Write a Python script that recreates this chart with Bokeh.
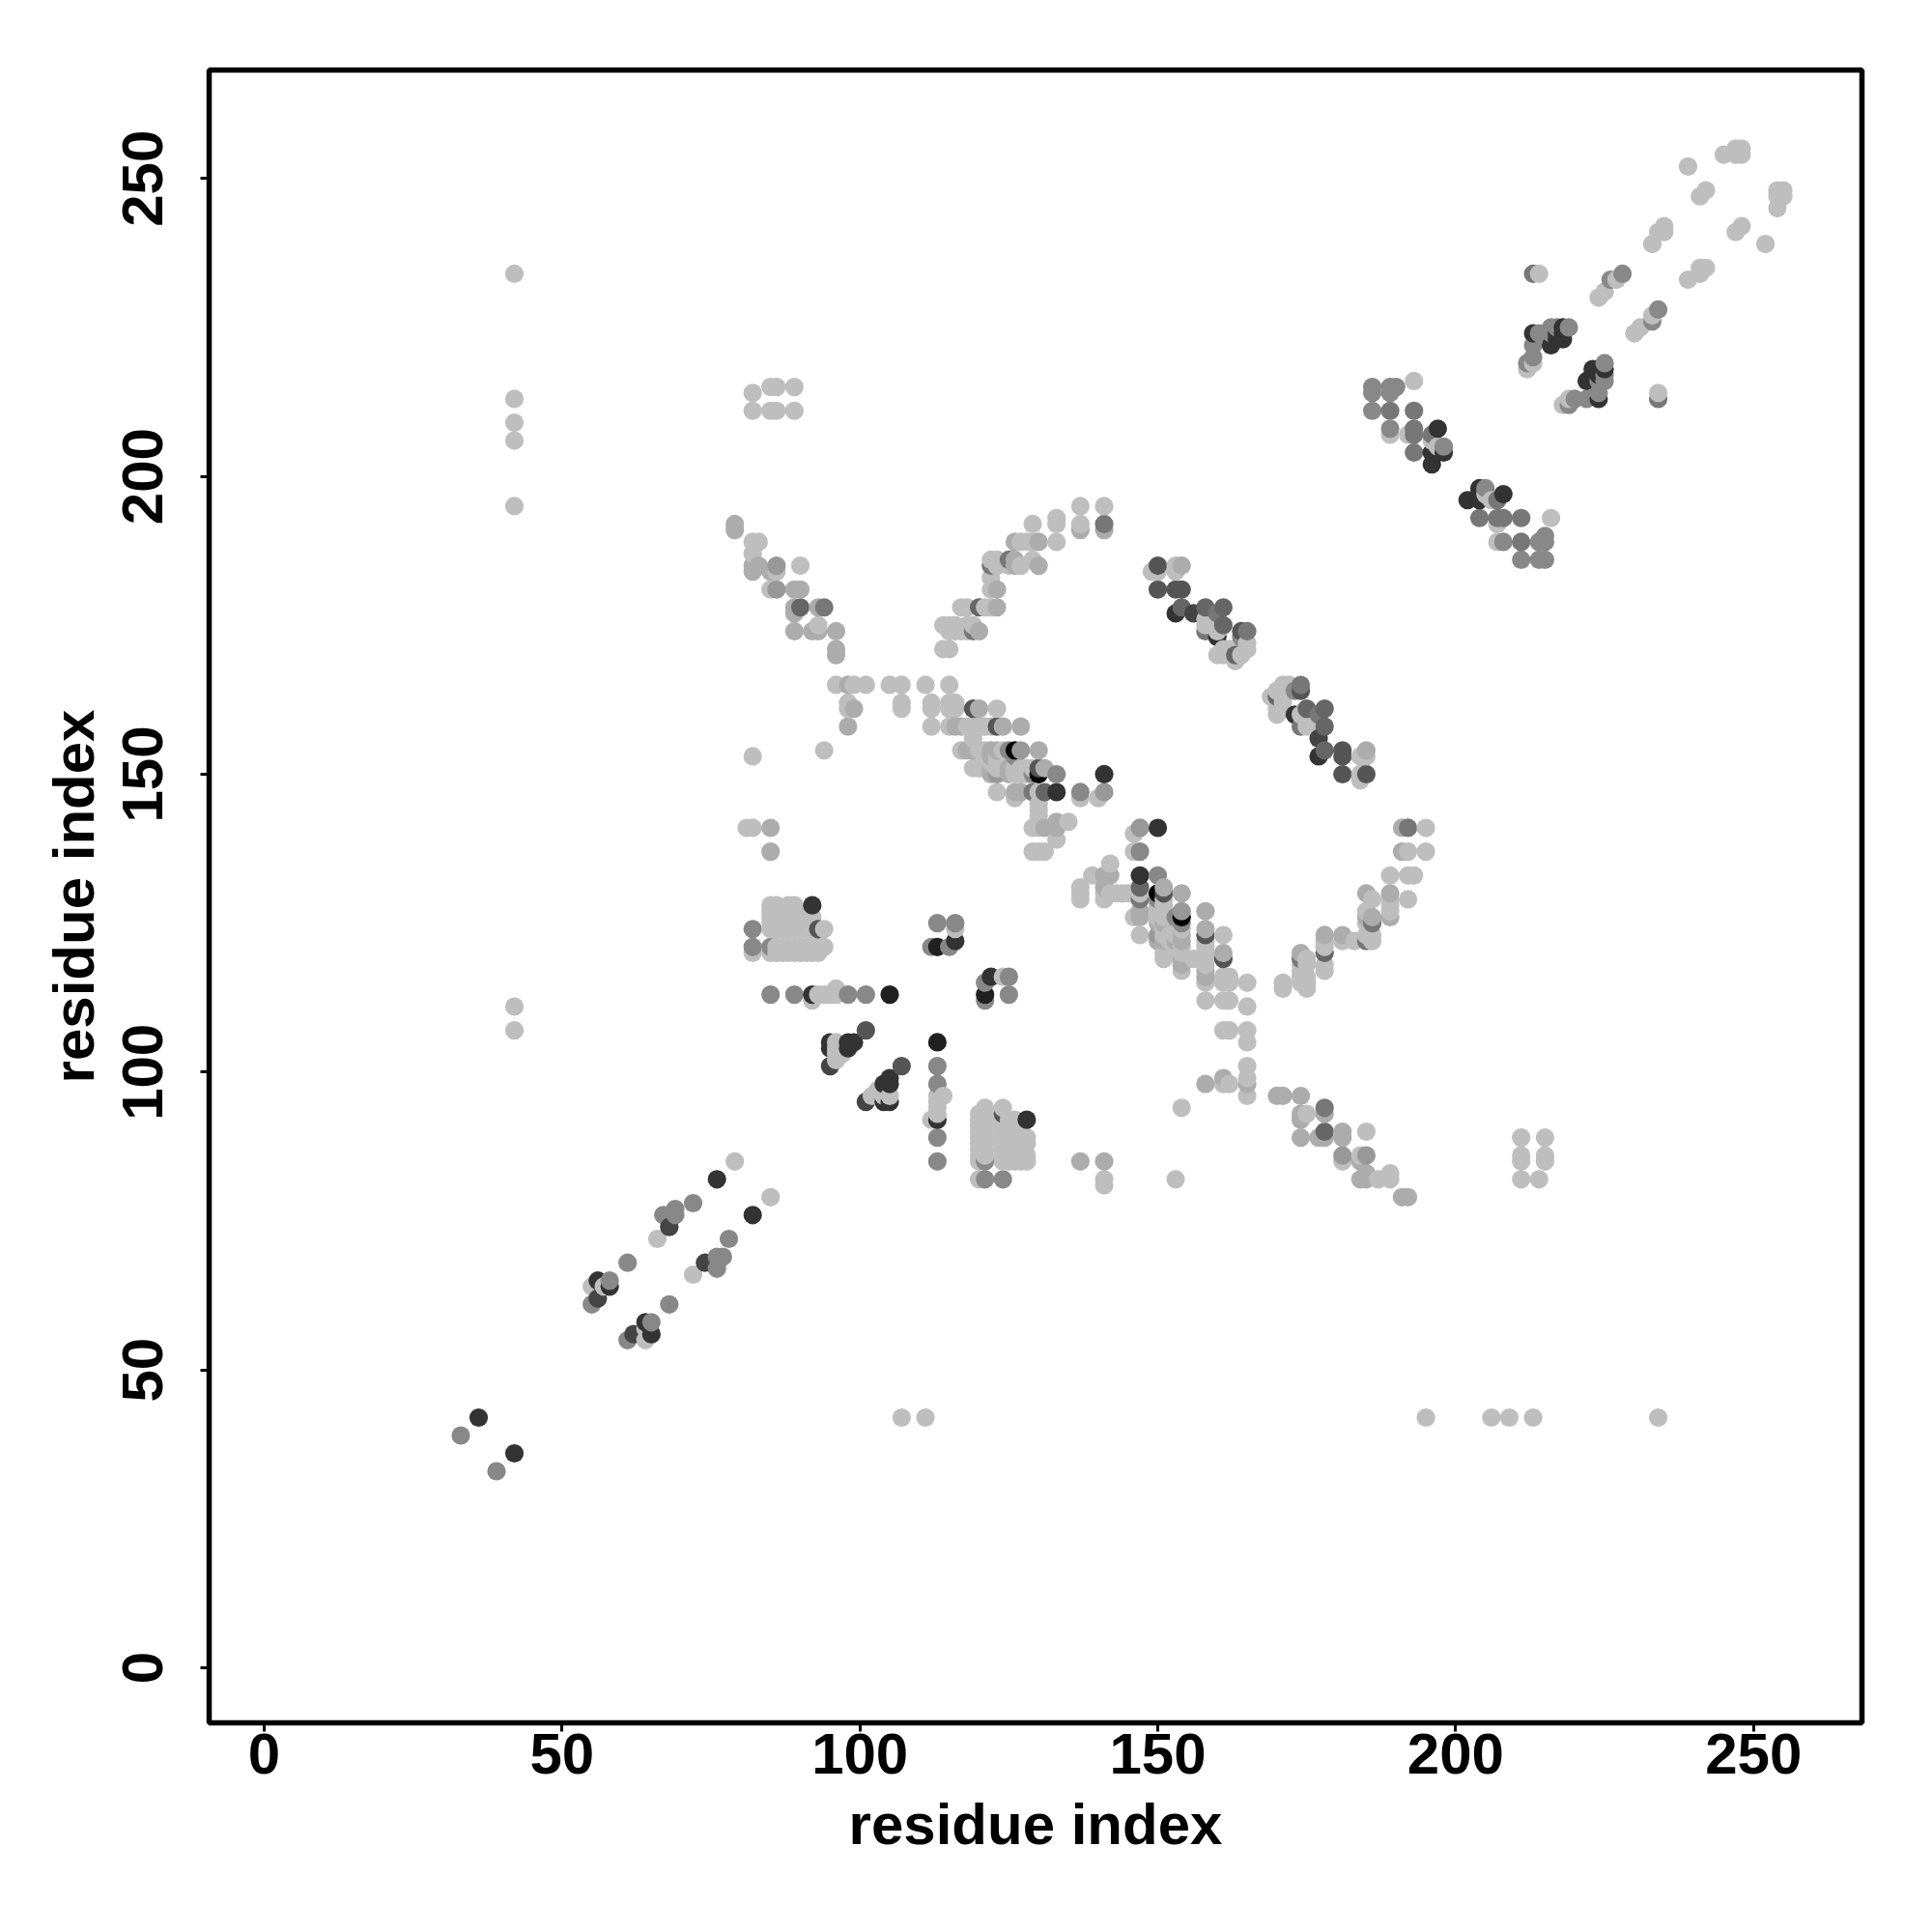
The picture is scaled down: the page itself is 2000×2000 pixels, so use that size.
from bokeh.plotting import figure
from bokeh.models import ColumnDataSource, FixedTicker, Range1d
from bokeh.embed import file_html
from bokeh.resources import INLINE

# grey levels of the contact scores
L, A, B, G, M, N, O, P, D, K, Z = 190, 172, 152, 136, 119, 102, 85, 68, 51, 32, 0

x_ticks = [0, 50, 100, 150, 200, 250]
y_ticks = [0, 50, 100, 150, 200, 250]
axis_title = "residue index"

# contacts (i, j, grey) with i < j; the map is symmetric
strand_start = [(33,39,G),(36,42,D),(55,61,G),(55,64,L),(56,62,P),(56,65,D),(57,64,L),(58,64,D),(58,65,G),
    (61,68,G),(66,72,L),(67,76,G),(68,74,P),(69,76,G),(69,77,G),(72,78,G),(76,82,D),(79,85,L)]
residue_42 = [(42,107,L),(42,111,L),(42,195,L),(42,206,L),(42,209,L),(42,213,L),(42,234,L)]
far_82 = [(82,211,L),(82,214,L),(85,211,L),(86,211,L),(89,211,L),(85,215,L),(86,215,L),(89,215,L),
    (82,153,L),(94,154,L),(81,141,L),(82,141,L),(85,141,A),(85,137,A)]
arm_left = [(79,191,A),(79,192,A),(82,189,L),(83,189,L),(82,187,L),(82,184,A),(82,185,A),(83,185,A),(85,184,A),
    (86,184,L),(86,185,B),(90,185,L),(85,181,L),(86,181,B),(89,181,A),(90,181,A),(89,177,A),(89,178,A),(90,178,N),
    (93,178,A),(94,178,M),(89,174,A),(92,174,A),(93,174,A),(93,175,L),(96,174,A),(96,171,A),(96,170,A)]
row_165 = [(96,165,L),(98,165,A),(99,165,L),(101,165,L),(105,165,L),(107,165,L),(111,165,L),(115,165,L),
    (98,162,L),(98,161,L),(99,161,A),(98,158,A),(107,162,L),(107,161,L),(112,162,L),(112,161,L),(115,162,L),
    (116,162,L),(115,161,L),(116,161,L),(119,161,O),(120,161,A),(123,161,L)]
row_158 = [(112,158,L),(115,158,L),(116,158,A),(117,158,A),(118,158,L),(119,158,L),(120,158,L),(121,158,L),(122,158,L),
    (123,158,O),(124,158,A),(127,158,A),(119,156,L),(117,154,L),(118,154,A),(119,154,A),(120,154,L),(121,154,L),
    (122,154,A),(123,154,A),(124,154,L),(125,154,G),(126,154,Z),(127,154,B),(130,154,A),(126,153,G),(122,153,A),(123,153,L)]
row_151 = [(119,151,L),(120,151,L),(122,151,A),(122,152,L),(123,152,L),(123,151,L),(124,151,L),(125,151,A),(126,151,L),
    (127,151,L),(128,151,L),(129,151,L),(130,151,O),(131,151,A),(122,150,A),(123,150,B),(125,150,A),(126,150,L),
    (127,150,L),(128,150,L),(129,150,G),(130,150,Z),(133,150,G),(141,150,D)]
row_147 = [(123,147,L),(126,146,L),(126,147,A),(127,147,A),(129,147,M),(130,147,L),(131,147,N),(133,147,D),(137,146,L),
    (137,147,G),(140,146,L),(141,147,B),(130,145,L),(130,144,L),(130,143,L),(130,142,L),(130,141,L),(129,141,L),
    (131,141,A),(133,142,A),(133,141,A),(135,142,L),(133,139,L),(129,137,L),(130,137,L),(131,137,L)]
arm_up = [(137,195,L),(141,195,L),(137,192,L),(137,191,A),(141,192,M),(141,191,A),(133,193,L),(133,192,L),(129,192,L),
    (133,189,L),(126,189,A),(127,189,L),(128,189,L),(129,189,L),(130,189,A),(122,186,L),(123,186,L),(125,186,M),
    (126,186,A),(129,186,L),(122,185,M),(123,185,L),(125,185,L),(126,185,A),(127,185,L),(130,185,A),(122,183,L),
    (122,181,L),(123,181,A),(117,178,L),(118,178,L),(120,178,N),(121,178,L),(122,178,L),(123,178,A),(114,175,L),
    (115,175,L),(116,175,L),(118,175,L),(119,175,L),(115,174,L),(116,174,L),(117,174,L),(118,174,L),(119,174,M),(120,174,A),
    (114,171,L),(115,171,L)]
block = [(82,120,L),(82,121,G),(82,124,G),(85,120,L),(85,121,G),(86,120,L),(86,121,L),(87,120,L),(87,121,L),(88,120,L),
    (88,121,L),(89,120,L),(89,121,L),(90,120,L),(90,121,L),(91,120,L),(91,121,L),(92,120,L),(92,121,L),(93,120,L),(93,121,L),
    (94,121,L),(85,124,L),(86,124,L),(87,124,L),(88,124,L),(89,124,L),(90,124,L),(91,124,L),(92,124,L),(93,124,O),(94,124,L),
    (85,125,L),(86,125,L),(87,125,L),(88,125,L),(89,125,L),(90,125,L),(91,125,L),(92,125,L),(85,126,L),(86,126,L),(87,126,L),
    (88,126,L),(89,126,L),(90,126,L),(91,126,L),(92,126,L),(85,127,L),(86,127,L),(87,127,L),(88,127,L),(89,127,L),(90,127,L),
    (85,128,L),(86,128,L),(88,128,L),(89,128,L),(92,128,D)]
row_113 = [(85,113,G),(89,113,G),(92,112,L),(92,113,D),(93,113,L),(94,113,L),(95,113,L),(96,113,L),(96,114,L),(98,113,G),
    (101,113,G),(105,113,K),(95,101,P),(95,104,D),(95,105,D),(96,102,L),(96,103,L),(96,104,L),(96,105,L),(97,103,L),
    (98,104,D),(98,105,D),(99,105,D),(101,107,O)]
knot = [(112,121,G),(113,121,K),(113,125,G),(115,121,G),(116,122,D),(116,124,L),(116,125,G)]
long_band = [(149,184,L),(150,181,O),(150,184,L),(150,185,O),(153,177,D),(153,181,O),(153,184,L),(153,185,L),(154,178,N),
    (154,181,O),(154,185,A),(156,177,P),(158,174,M),(158,175,L),(158,176,L),(158,178,N),(160,170,L),(160,173,D),(160,174,L),
    (160,177,M),(161,170,L),(161,171,L),(161,175,N),(161,178,N),(162,171,L),(163,169,L),(163,170,N),(164,170,L),(164,173,G),
    (164,174,O),(165,171,L),(165,172,L),(165,174,M)]
upper_band = [(186,214,G),(186,215,G),(189,214,G),(189,215,G),(190,215,G),(193,216,L),(186,211,G),(189,211,M),(193,211,M),
    (189,207,L),(189,208,G),(192,207,L),(193,207,M),(193,208,M),(196,207,M),(197,208,D),(196,206,L),(197,205,L),(198,205,G),
    (197,204,D),(198,204,D),(196,204,D),(193,204,M),(196,202,D),(207,192,L),(214,186,G),(215,186,G),(214,189,G),(215,189,G),
    (215,190,G),(216,193,L),(211,186,G),(211,189,M),(211,193,M),(207,189,L),(208,189,G),(207,193,M),(208,193,M),(204,193,M)]
top_cluster = [(212,218,L),(212,219,G),(213,219,L),(213,220,G),(213,222,G),(213,224,D),(214,224,G),(216,222,D),(217,223,D),
    (216,225,G),(217,225,G),(218,225,D),(219,225,G),(216,224,G),(217,224,D),(218,224,D),(218,223,D),(213,234,M),(214,234,L),
    (220,213,G),(219,213,L)]
end_band = [(224,230,L),(225,231,L),(226,233,G),(227,233,L),(228,234,G),(233,239,L),(234,241,L),(235,241,L),(235,242,L),
    (239,252,L),(241,247,L),(242,248,L),(245,254,L),(247,254,L),(247,255,L),(248,254,L),(248,255,L)]

segments = [strand_start, residue_42, far_82, arm_left, row_165, row_158, row_151, row_147, arm_up, block, row_113, knot,
            long_band, upper_band, top_cluster, end_band]

contacts = {}
for seg in segments:
    for i, j, g in seg:
        contacts[(i, j)] = g
        contacts[(j, i)] = g
keys = sorted(contacts)
xs = [k[0] for k in keys]
ys = [k[1] for k in keys]
cols = ["#%02x%02x%02x" % (contacts[k], contacts[k], contacts[k]) for k in keys]

p = figure(frame_width=1711, frame_height=1711, output_backend="svg", toolbar_location=None,
           x_range=Range1d(-9.24, 268.2), y_range=Range1d(-9.24, 268.2),
           min_border_left=216, min_border_top=72, min_border_right=60, min_border_bottom=180)
p.grid.visible = False
p.background_fill_color = "white"
p.outline_line_color = "black"
p.outline_line_width = 5.5
p.outline_line_alpha = 1

p.scatter(x="x", y="y", source=ColumnDataSource(dict(x=xs, y=ys, c=cols)), size=19.2, marker="circle",
          fill_color="c", line_color=None)

for ax, ticks in ((p.xaxis[0], x_ticks), (p.yaxis[0], y_ticks)):
    ax.ticker = FixedTicker(ticks=ticks)
    ax.axis_label = axis_title
    ax.axis_line_color = None
    ax.major_tick_line_color = "black"
    ax.major_tick_line_width = 3
    ax.major_tick_in = 0
    ax.major_tick_out = 9
    ax.minor_tick_line_color = None
    ax.major_label_text_font = "Liberation Sans"
    ax.major_label_text_font_style = "bold"
    ax.major_label_text_font_size = "60px"
    ax.major_label_text_color = "black"
    ax.axis_label_text_font = "Liberation Sans"
    ax.axis_label_text_font_style = "bold"
    ax.axis_label_text_font_size = "60px"
    ax.axis_label_text_color = "black"
p.yaxis[0].major_label_orientation = "vertical"
p.xaxis[0].major_label_standoff = 2
p.yaxis[0].major_label_standoff = 39
p.xaxis[0].axis_label_standoff = 16
p.yaxis[0].axis_label_standoff = 15

open("out.html", "w").write(file_html(p, INLINE))
